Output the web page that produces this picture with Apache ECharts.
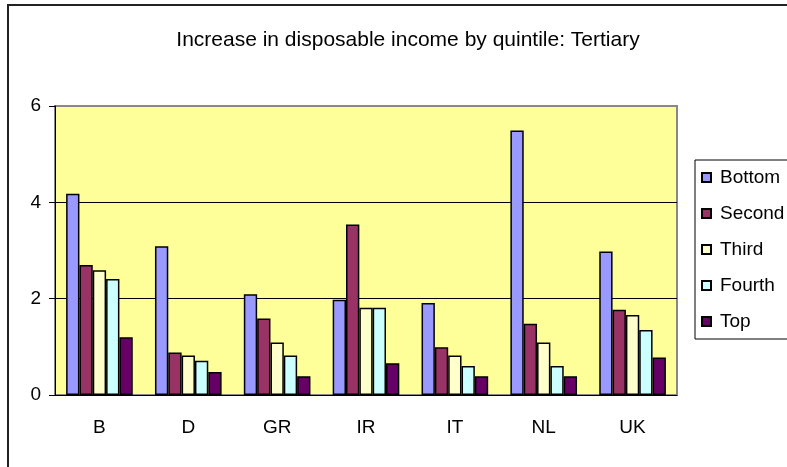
<!DOCTYPE html>
<html>
<head>
<meta charset="utf-8">
<script src="https://cdn.jsdelivr.net/npm/echarts@6/dist/echarts.min.js"></script>
<style>
  html, body { margin: 0; padding: 0; background: #fff; }
  #chart { width: 787px; height: 467px; }
</style>
</head>
<body>
<div id="chart"></div>
<script>
const countries = ['B', 'D', 'GR', 'IR', 'IT', 'NL', 'UK'];
const bottom = [4.18, 3.09, 2.09, 1.98, 1.91, 5.49, 2.98];
const second = [2.70, 0.88, 1.59, 3.54, 0.99, 1.48, 1.77];
const third = [2.59, 0.82, 1.09, 1.81, 0.82, 1.09, 1.66];
const fourth = [2.41, 0.71, 0.82, 1.81, 0.60, 0.60, 1.35];
const top5 = [1.20, 0.48, 0.39, 0.66, 0.39, 0.39, 0.78];

const seriesDefs = [
  { name: 'Bottom', data: bottom, color: '#9999ff' },
  { name: 'Second', data: second, color: '#993366' },
  { name: 'Third', data: third, color: '#ffffcc' },
  { name: 'Fourth', data: fourth, color: '#ccffff' },
  { name: 'Top', data: top5, color: '#660066' }
];

const font = 'Liberation Sans, Arial, sans-serif';
const chart = echarts.init(document.getElementById('chart'));

const option = {
  animation: false,
  textStyle: { fontFamily: font },
  graphic: [{
    type: 'rect',
    shape: { x: 8, y: 5, width: 820, height: 500 },
    style: { fill: 'none', stroke: '#222', lineWidth: 2 },
    silent: true
  }],
  title: {
    text: 'Increase in disposable income by quintile: Tertiary',
    left: 403,
    textAlign: 'center',
    top: 25,
    textStyle: { fontFamily: font, fontSize: 21, fontWeight: 'normal', color: '#000' }
  },
  legend: {
    orient: 'vertical',
    left: 695,
    top: 160,
    width: 90,
    padding: [8, 6, 8, 6],
    itemWidth: 9,
    itemHeight: 9,
    itemGap: 17,
    borderColor: '#000',
    borderWidth: 1,
    icon: 'rect',
    textStyle: { fontFamily: font, fontSize: 19, color: '#000', padding: [0, 0, 0, 4] },
    data: seriesDefs.map(s => s.name)
  },
  grid: {
    left: 55,
    right: 110,
    top: 106,
    bottom: 72,
    show: true,
    backgroundColor: '#ffff99',
    borderColor: '#888',
    borderWidth: 2
  },
  xAxis: {
    type: 'category',
    data: countries,
    axisLine: { lineStyle: { color: '#000', width: 1 } },
    axisTick: { length: 5, lineStyle: { color: '#000' } },
    axisLabel: { fontFamily: font, fontSize: 19, color: '#000', margin: 23 }
  },
  yAxis: {
    type: 'value',
    min: 0,
    max: 6,
    interval: 2,
    axisLine: { show: true, lineStyle: { color: '#000', width: 1 } },
    axisTick: { show: true, length: 6, lineStyle: { color: '#000' } },
    // last split line sits on the grey plot border
    splitLine: { lineStyle: { color: ['#000', '#000', '#000', '#888'], width: 1 } },
    axisLabel: { fontFamily: font, fontSize: 19, color: '#000', margin: 14 }
  },
  series: seriesDefs.map(s => {
    return {
      name: s.name,
      type: 'bar',
      data: s.data,
      barGap: 0,
      barCategoryGap: '25%',
      itemStyle: { color: s.color, borderColor: '#000', borderWidth: 1.5 }
    };
  })
};

chart.setOption(option);
</script>
</body>
</html>
